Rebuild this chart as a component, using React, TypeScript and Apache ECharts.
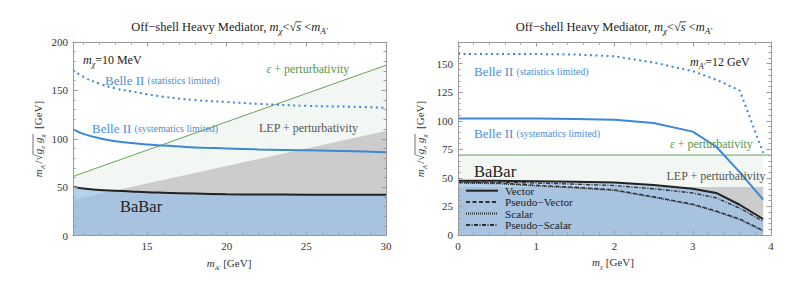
import React, { useEffect, useRef } from "react";
import * as echarts from "echarts";

const SERIF = '"Liberation Serif", "DejaVu Serif", "Times New Roman", serif';

// ---------- Left panel: m_chi = 10 MeV, x = m_A' [GeV]
const leftMA = [10.35, 11, 12, 13, 14, 15, 16, 18, 20, 22, 25, 28, 30];
const leftBelleSys = [110, 105, 100.5, 97.5, 95.5, 94, 93, 91, 90, 89, 88, 87, 86];
const leftBelleStat = [171, 164, 157, 152, 149, 146, 143.5, 140, 138, 136, 134, 133, 132];
const leftBaBar = [50.5, 48.5, 47, 46.3, 45.5, 44.7, 44.2, 43.3, 42.6, 42.4, 42.2, 42.1, 42];
const leftBoundX = [10.35, 30];
const leftEps = [61, 176];
const leftLep = [37, 108];

// ---------- Right panel: m_A' = 12 GeV, x = m_chi [GeV]
const rightMChi = [0, 0.5, 1, 1.5, 2, 2.5, 3, 3.3, 3.6, 3.9];
const rightBelleStat = [158.5, 158.5, 158.5, 158, 156.5, 151, 143.5, 136, 126.5, 72];
const rightBelleSys = [102, 102, 102, 101.5, 101, 98, 90.5, 77.3, 55, 31];
const rightVector = [47.5, 47.4, 47, 46.6, 46, 43.8, 40.5, 36.8, 26.5, 14];
const rightPseudoVector = [46, 45.5, 43.5, 41.8, 39.5, 33.5, 27, 21, 14, 4];
const rightScalar = [45.5, 45, 43, 41.3, 39, 33, 26.5, 20.5, 13.5, 3.5];
const rightPseudoScalar = [46.5, 46.3, 45.5, 44.5, 43.3, 40.5, 36.8, 32.5, 23.5, 12];
const rightBoundX = [0, 3.9];
const rightEpsLineX = [0, 4];
const rightEps = [70, 70];
const rightLep = [42, 42];

// ---------- Ticks
const leftXMajor = [15, 20, 25, 30];
const leftXMinor = [11, 12, 13, 14, 16, 17, 18, 19, 21, 22, 23, 24, 26, 27, 28, 29];
const leftYMajor = [0, 50, 100, 150, 200];
const leftYMinor = [10, 20, 30, 40, 60, 70, 80, 90, 110, 120, 130, 140, 160, 170, 180, 190];
const rightXMajor = [0, 1, 2, 3, 4];
const rightXMinor = [0.2, 0.4, 0.6, 0.8, 1.2, 1.4, 1.6, 1.8, 2.2, 2.4, 2.6, 2.8, 3.2, 3.4, 3.6, 3.8];
const rightYMajor = [0, 25, 50, 75, 100, 125, 150];
const rightYMinor = [5, 10, 15, 20, 30, 35, 40, 45, 55, 60, 65, 70, 80, 85, 90, 95, 105, 110, 115, 120, 130, 135, 140, 145, 155, 160, 165];

const legendNames = ["Vector", "Pseudo\u2212Vector", "Scalar", "Pseudo\u2212Scalar"];

const FRAME = "#9a9a9a";
const BLUE = "#3b88d6";
const BLUE_TEXT = "#4a8fd8";
const GREEN = "#69a05b";
const GREEN_TEXT = "#57994a";
const AREA_BLUE = "rgba(148,190,232,0.66)";
const GRAY = "#cccccc";
const LIGHT_GREEN = "#f3f7f3";

const zip = (xs: number[], ys: number[]) => xs.map((x, i) => [x, ys[i]]);

function axes(kind: "x" | "y", gridIndex: number, min: number, max: number, major: number[], minor: number[]) {
  const near = kind === "x" ? "bottom" : "left";
  const far = kind === "x" ? "top" : "right";
  const base = (position: string, ticks: number[], len: number, showLine: boolean, showLabel: boolean) => ({
    type: "value",
    gridIndex,
    min,
    max,
    position,
    z: 10,
    axisLine: { show: showLine, onZero: false, lineStyle: { color: FRAME, width: 1 } },
    axisTick: { show: true, inside: true, length: len, customValues: ticks, lineStyle: { color: FRAME, width: 1 } },
    axisLabel: {
      show: showLabel,
      customValues: major,
      formatter: "{t|{value}}",
      rich: { t: { fontFamily: SERIF, fontSize: 11, color: "#333" } },
      color: "#333",
      fontFamily: SERIF,
      fontSize: 11,
      margin: 5,
      showMaxLabel: true,
      showMinLabel: true,
    },
    splitLine: { show: false },
    minorTick: { show: false },
  });
  return [
    base(near, major, 4.5, true, true),
    base(far, major, 4.5, true, false),
    base(near, minor, 2.5, false, false),
    base(far, minor, 2.5, false, false),
  ];
}

const subSize = (size: number) => Math.round(size * 0.68);

function rich(size: number, color: string) {
  const L = size + 5;
  const s = subSize(size);
  return {
    n: { fontSize: size, fill: color, fontFamily: SERIF, lineHeight: L },
    i: { fontSize: size, fill: color, fontFamily: SERIF, fontStyle: "italic", lineHeight: L },
    s: { fontSize: s, fill: color, fontFamily: SERIF, fontStyle: "italic", lineHeight: s, verticalAlign: "bottom" },
    sm: { fontSize: Math.round(size * 0.8), fill: color, fontFamily: SERIF, lineHeight: L },
  };
}

function txt(x: number, y: number, text: string, size: number, color: string, align = "left", rotation = 0) {
  return {
    type: "text",
    x,
    y,
    rotation,
    z: 100,
    silent: true,
    style: {
      text,
      rich: rich(size, color),
      fontFamily: SERIF,
      fontSize: size,
      fill: color,
      align,
      verticalAlign: "middle",
    },
  };
}

function line(name: string, xi: number, xs: number[], ys: number[], lineStyle: any, extra: any = {}) {
  return {
    type: "line",
    name,
    xAxisIndex: xi,
    yAxisIndex: xi,
    data: zip(xs, ys),
    symbol: "none",
    silent: true,
    lineStyle,
    ...extra,
  };
}

// token lists: [text, style]
const TITLE_TOKENS: [string, string][] = [
  ["Off\u2212shell Heavy Mediator, ", "n"], ["m", "i"], ["\u03c7", "s"], ["<\u221a", "n"], ["s", "i"], [" <", "n"], ["m", "i"], ["A\u2032", "s"],
];
const YLABEL_TOKENS: [string, string][] = [
  ["m", "i"], ["A\u2032", "s"], ["/\u221a", "n"], ["g", "i"], ["e", "s"], [" ", "n"], ["g", "i"], ["\u03c7", "s"], ["  [GeV]", "n"],
];
const toRich = (t: [string, string][]) => t.map(([s, k]) => `{${k}|${s}}`).join("");

export default function App() {
  const ref = useRef<HTMLDivElement>(null);
  useEffect(() => {
    document.body.style.margin = "0";
    if (!ref.current) return;
    const ctx = document.createElement("canvas").getContext("2d")!;
    const tokW = (t: string, k: string, size: number) => {
      const fs = k === "s" ? subSize(size) : size;
      ctx.font = `${k === "i" || k === "s" ? "italic " : ""}${fs}px ${SERIF}`;
      return ctx.measureText(t).width;
    };
    const radical = (tokens: [string, string][], size: number, from: number, to: number) => {
      let total = 0, a = 0, b = 0;
      tokens.forEach(([t, k], idx) => {
        if (idx === from) a = total;
        total += tokW(t, k, size);
        if (idx === to) b = total;
      });
      return [total, a, b];
    };
    const [tw, ta, tb] = radical(TITLE_TOKENS, 12.5, 4, 4);
    const [yw, ya, yb] = radical(YLABEL_TOKENS, 11, 3, 7);
    const overTitle = (cx: number) => ({
      type: "line", z: 100, silent: true,
      shape: { x1: cx - tw / 2 + ta - 0.5, y1: 21.8, x2: cx - tw / 2 + tb + 0.5, y2: 21.8 },
      style: { stroke: "#222", lineWidth: 0.8 },
    });
    const overY = (cx: number, cy: number) => ({
      type: "line", z: 100, silent: true,
      shape: { x1: cx - 5, y1: cy + yw / 2 - ya + 0.5, x2: cx - 5, y2: cy + yw / 2 - yb - 0.5 },
      style: { stroke: "#333", lineWidth: 0.7 },
    });

    const TITLE = toRich(TITLE_TOKENS);
    const YLABEL = toRich(YLABEL_TOKENS);

    const chart = echarts.init(ref.current, undefined, { renderer: "svg" });
    const option: any = {
      animation: false,
      backgroundColor: "#ffffff",
      textStyle: { fontFamily: SERIF },
      grid: [
        { left: 73, top: 42, width: 313, height: 193.5 },
        { left: 458, top: 42, width: 313, height: 193 },
      ],
      xAxis: [
        ...axes("x", 0, 10.35, 30, leftXMajor, leftXMinor),
        ...axes("x", 1, 0, 4, rightXMajor, rightXMinor),
      ],
      yAxis: [
        ...axes("y", 0, 0, 200, leftYMajor, leftYMinor),
        ...axes("y", 1, 0, 169, rightYMajor, rightYMinor),
      ],
      legend: {
        data: legendNames,
        orient: "vertical",
        left: 465,
        top: 185,
        itemWidth: 32,
        itemHeight: 10,
        itemGap: 0,
        padding: 0,
        selectedMode: false,
        itemStyle: { opacity: 0 },
        textStyle: { fontFamily: SERIF, fontSize: 11.2, color: "#222", lineHeight: 11.4, padding: [0, 0, 0, 2] },
      },
      series: [
        // left panel
        line("epsL", 0, leftBoundX, leftEps, { color: GREEN, width: 1 }, { areaStyle: { color: LIGHT_GREEN, opacity: 1 } }),
        line("lepL", 0, leftBoundX, leftLep, { width: 0 }, { areaStyle: { color: GRAY, opacity: 1 } }),
        line("babarL", 0, leftMA, leftBaBar, { color: "#222", width: 2 }, { smooth: 0.4, areaStyle: { color: AREA_BLUE, opacity: 1 } }),
        line("sysL", 0, leftMA, leftBelleSys, { color: BLUE, width: 2 }, { smooth: 0.4 }),
        line("statL", 0, leftMA, leftBelleStat, { color: BLUE, width: 2, type: [2, 3.5] }, { smooth: 0.4 }),
        // right panel
        line("epsR", 4, rightBoundX, rightEps, { width: 0 }, { areaStyle: { color: LIGHT_GREEN, opacity: 1 } }),
        line("epsLineR", 4, rightEpsLineX, rightEps, { color: GREEN, width: 1 }),
        line("lepR", 4, rightBoundX, rightLep, { width: 0 }, { areaStyle: { color: GRAY, opacity: 1 } }),
        line(legendNames[0], 4, rightMChi, rightVector, { color: "#222", width: 2 }, { areaStyle: { color: AREA_BLUE, opacity: 1 } }),
        line(legendNames[1], 4, rightMChi, rightPseudoVector, { color: "#333", width: 1.4, type: [4, 2.5] }),
        line(legendNames[2], 4, rightMChi, rightScalar, { color: "#333", width: 1.4, type: [1, 1] }),
        line(legendNames[3], 4, rightMChi, rightPseudoScalar, { color: "#333", width: 1.4, type: [4, 1.5, 1, 1.5] }),
        line("sysR", 4, rightMChi, rightBelleSys, { color: BLUE, width: 2 }),
        line("statR", 4, rightMChi, rightBelleStat, { color: BLUE, width: 2, type: [2, 3.5] }),
      ],
      graphic: [
        // left
        txt(229.5, 27, TITLE, 12.5, "#222", "center"),
        overTitle(229.5),
        txt(83, 60, "{i|m}{s|\u03c7}{n|=10 MeV}", 12, "#222"),
        txt(105, 80.5, "{n|Belle II }{sm|(statistics limited)}", 13, BLUE_TEXT),
        txt(266.5, 68.5, "{i|\u03b5}{n| + perturbativity}", 12, GREEN_TEXT),
        txt(92, 128.5, "{n|Belle II }{sm|(systematics limited)}", 13, BLUE_TEXT),
        txt(259, 128, "{n|LEP + perturbativity}", 12, "#555"),
        txt(120, 206, "{n|BaBar}", 16.5, "#222"),
        txt(229, 263, "{i|m}{s|A\u2032}{n| [GeV]}", 11, "#333", "center"),
        txt(38, 139, YLABEL, 11, "#333", "center", Math.PI / 2),
        overY(38, 139),
        // right
        txt(614, 27, TITLE, 12.5, "#222", "center"),
        overTitle(614),
        txt(690, 62, "{i|m}{s|A\u2032}{n|=12 GeV}", 12, "#222"),
        txt(474, 71, "{n|Belle II }{sm|(statistics limited)}", 13, BLUE_TEXT),
        txt(474, 133.5, "{n|Belle II }{sm|(systematics limited)}", 13, BLUE_TEXT),
        txt(670, 144, "{i|\u03b5}{n| + perturbativity}", 12, GREEN_TEXT),
        txt(474, 171.5, "{n|BaBar}", 16.5, "#222"),
        txt(666.5, 176, "{n|LEP + perturbativity}", 12, "#555"),
        txt(613, 262, "{i|m}{s|\u03c7}{n| [GeV]}", 11, "#333", "center"),
        txt(420, 139, YLABEL, 11, "#333", "center", Math.PI / 2),
        overY(420, 139),
      ],
    };
    chart.setOption(option);
    return () => chart.dispose();
  }, []);
  return <div ref={ref} style={{ width: 797, height: 287 }} />;
}
